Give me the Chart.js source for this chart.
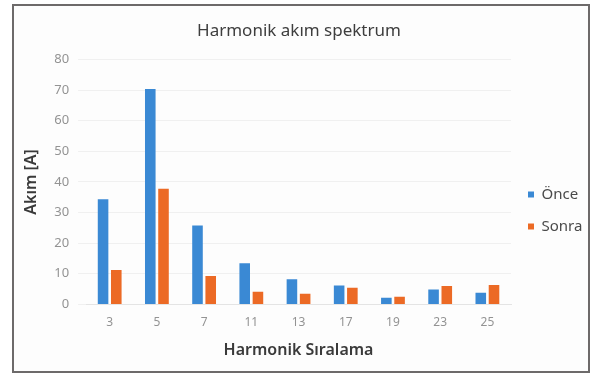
<!DOCTYPE html>
<html>
<head>
<meta charset="utf-8">
<script src="https://cdn.jsdelivr.net/npm/chart.js@4/dist/chart.umd.min.js"></script>
<style>
    html, body { margin: 0; padding: 0; background: #fff; }
    .frame {
        position: absolute; left: 12px; top: 4px;
        width: 578px; height: 369px;
        box-sizing: border-box;
        border: 2px solid #6d6a6a;
        background: #fdfdfd;
    }
    .frame canvas { display: block; }
</style>
</head>
<body>
<div class="frame">
    <canvas id="harmonic-chart" width="574" height="365"></canvas>
</div>
<script>
// harmonik akım spektrumu - önce / sonra
const harmonicOrders = ['3', '5', '7', '11', '13', '17', '19', '23', '25'];
const currentBefore = [34.3, 70.3, 25.8, 13.4, 8.2, 6.2, 2.2, 4.9, 3.8];
const currentAfter = [11.2, 37.8, 9.3, 4.1, 3.5, 5.4, 2.5, 6.0, 6.3];
const yTicks = [0, 10, 20, 30, 40, 50, 60, 70, 80];

const fontFamily = "'Noto Sans', 'DejaVu Sans', sans-serif";

const ctx = document.getElementById('harmonic-chart');

new Chart(ctx, {
    type: 'bar',
    data: {
        labels: harmonicOrders,
        datasets: [
            {
                label: 'Önce',
                data: currentBefore,
                backgroundColor: '#3a89d4',
                barPercentage: 0.8,
                categoryPercentage: 0.56
            },
            {
                label: 'Sonra',
                data: currentAfter,
                backgroundColor: '#ec6a25',
                barPercentage: 0.8,
                categoryPercentage: 0.56
            }
        ]
    },
    options: {
        responsive: false,
        animation: false,
        layout: { padding: { left: 2, right: 6, top: 4, bottom: 7 } },
        scales: {
            x: {
                grid: { display: false },
                border: { color: '#e4e4e4' },
                ticks: { color: '#939393', font: { family: fontFamily, size: 12 }, padding: 3 },
                title: {
                    display: true,
                    text: 'Harmonik Sıralama',
                    color: '#3a3a3a',
                    font: { family: fontFamily, size: 16, weight: '600' },
                    padding: { top: 8, bottom: 4 }
                }
            },
            y: {
                min: 0,
                max: 80,
                afterBuildTicks: axis => { axis.ticks = yTicks.map(v => ({ value: v })); },
                grid: { color: '#f0f0f0' },
                border: { display: false },
                ticks: { color: '#939393', font: { family: fontFamily, size: 13 }, padding: 9 },
                title: {
                    display: true,
                    text: 'Akım [A]',
                    color: '#3a3a3a',
                    font: { family: fontFamily, size: 16, weight: '600' },
                    padding: { top: 6, bottom: 4 }
                }
            }
        },
        plugins: {
            title: {
                display: true,
                text: 'Harmonik akım spektrum',
                color: '#3e3e3e',
                font: { family: fontFamily, size: 17, weight: 'normal' },
                padding: { top: 11, bottom: 18 }
            },
            legend: {
                position: 'right',
                maxWidth: 71,
                title: {
                    display: true,
                    text: ' ',
                    font: { family: fontFamily, size: 10 },
                    padding: { top: 35, bottom: 0 }
                },
                labels: {
                    color: '#4a4a4a',
                    font: { family: fontFamily, size: 15 },
                    boxWidth: 6,
                    boxHeight: 6,
                    padding: 17
                }
            },
            tooltip: { enabled: false }
        }
    }
});
</script>
</body>
</html>
